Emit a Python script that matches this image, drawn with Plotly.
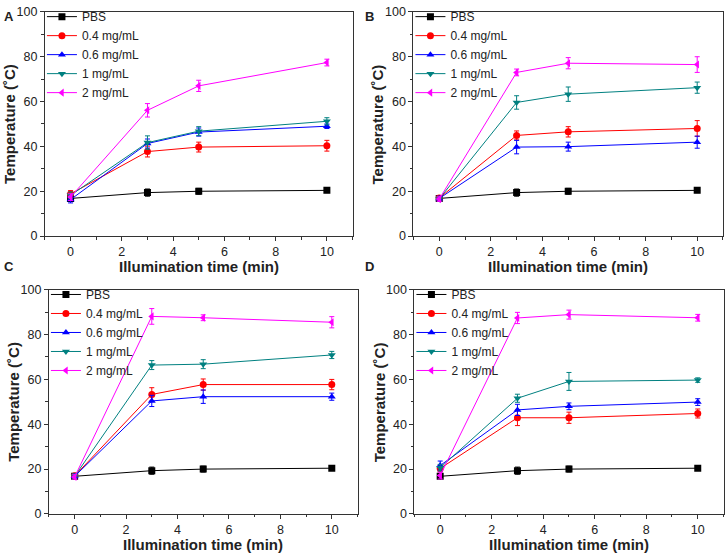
import plotly.graph_objects as go

times = [0, 3, 5, 10]
series_names = ["PBS", "0.4 mg/mL", "0.6 mg/mL", "1 mg/mL", "2 mg/mL"]
colors = ["#000000", "#ff0000", "#0000ff", "#008080", "#ff00ff"]
symbols = ["square", "circle", "triangle-up", "triangle-down", "triangle-left"]
panel_labels = ["A", "B", "C", "D"]

# Panel A
A_pbs = [16.8, 19.4, 20.0, 20.4]
A_04 = [18.8, 37.7, 39.7, 40.3]
A_06 = [16.3, 41.3, 46.4, 49.0]
A_1 = [18.2, 41.7, 46.8, 51.2]
A_2 = [17.4, 56.1, 67.0, 77.4]
A_pbs_err = [0.5, 1.6, 1.3, 1.0]
A_04_err = [1.5, 2.4, 2.2, 2.4]
A_06_err = [1.5, 2.0, 1.8, 1.0]
A_1_err = [1.5, 3.0, 2.0, 1.6]
A_2_err = [1.5, 3.0, 2.5, 1.5]

# Panel B
B_pbs = [16.8, 19.4, 20.0, 20.4]
B_04 = [17.0, 44.9, 46.5, 48.0]
B_06 = [16.8, 39.7, 39.9, 41.9]
B_1 = [16.6, 59.6, 63.3, 66.2]
B_2 = [16.5, 73.0, 77.1, 76.5]
B_pbs_err = [0.5, 1.6, 1.3, 1.0]
B_04_err = [1.0, 2.0, 2.3, 3.5]
B_06_err = [1.0, 3.0, 2.0, 2.7]
B_1_err = [1.0, 3.0, 3.2, 2.5]
B_2_err = [1.0, 1.5, 2.5, 3.5]

# Panel C
C_pbs = [16.8, 19.3, 20.0, 20.4]
C_04 = [17.0, 53.3, 57.7, 57.7]
C_06 = [16.8, 50.4, 52.3, 52.3]
C_1 = [16.8, 66.4, 66.8, 70.9]
C_2 = [16.5, 88.1, 87.5, 85.5]
C_pbs_err = [0.5, 1.6, 1.3, 1.0]
C_04_err = [1.0, 3.0, 2.5, 2.3]
C_06_err = [1.0, 2.5, 3.0, 1.6]
C_1_err = [1.0, 2.0, 2.0, 1.6]
C_2_err = [1.0, 3.5, 1.3, 2.5]

# Panel D
D_pbs = [16.8, 19.3, 20.0, 20.4]
D_04 = [20.3, 42.9, 42.9, 44.8]
D_06 = [21.6, 46.4, 48.0, 49.9]
D_1 = [20.6, 51.6, 59.1, 59.7]
D_2 = [17.1, 87.4, 88.9, 87.5]
D_pbs_err = [0.5, 1.6, 1.3, 1.0]
D_04_err = [1.5, 3.5, 2.5, 2.0]
D_06_err = [2.0, 2.5, 1.5, 1.5]
D_1_err = [1.5, 1.8, 4.0, 1.0]
D_2_err = [1.5, 2.5, 2.0, 1.5]

panels = [
    ([A_pbs, A_04, A_06, A_1, A_2], [A_pbs_err, A_04_err, A_06_err, A_1_err, A_2_err]),
    ([B_pbs, B_04, B_06, B_1, B_2], [B_pbs_err, B_04_err, B_06_err, B_1_err, B_2_err]),
    ([C_pbs, C_04, C_06, C_1, C_2], [C_pbs_err, C_04_err, C_06_err, C_1_err, C_2_err]),
    ([D_pbs, D_04, D_06, D_1, D_2], [D_pbs_err, D_04_err, D_06_err, D_1_err, D_2_err]),
]

W, H = 725, 558
# plot areas in pixels: (left, right, top, bottom)
boxes = [
    (45, 353, 5, 235),
    (414, 724, 5, 235),
    (49, 358, 290, 520),
    (415, 724.5, 290, 520),
]

fig = go.Figure()
FONT = "Liberation Sans, Arial, sans-serif"

for i, ((vals, errs), box) in enumerate(zip(panels, boxes)):
    l, r, t, b = box
    xa = "x" if i == 0 else f"x{i+1}"
    ya = "y" if i == 0 else f"y{i+1}"
    lg = "legend" if i == 0 else f"legend{i+1}"
    for k in range(5):
        fig.add_trace(go.Scatter(
            x=times, y=vals[k], name=series_names[k],
            mode="lines+markers",
            line=dict(color=colors[k], width=1),
            marker=dict(symbol=symbols[k], size=7, color=colors[k]),
            error_y=dict(type="data", array=errs[k], color=colors[k], thickness=1, width=2.5),
            xaxis=xa, yaxis=ya, legend=lg, showlegend=True,
        ))
    xdom = [l / W, r / W]
    ydom = [1 - b / H, 1 - t / H]
    axcommon = dict(showline=True, linecolor="#333", linewidth=1, mirror=True,
                    ticks="outside", ticklen=4, tickcolor="#333", showgrid=False,
                    zeroline=False, tickfont=dict(family=FONT, size=12.5, color="#222"))
    xkey = "xaxis" if i == 0 else f"xaxis{i+1}"
    ykey = "yaxis" if i == 0 else f"yaxis{i+1}"
    fig.update_layout(**{
        xkey: dict(domain=xdom, range=[-1, 11], tickvals=[0, 2, 4, 6, 8, 10],
                   anchor=ya, minor=dict(tickvals=[-1, 1, 3, 5, 7, 9, 11], ticklen=2.5, ticks="outside", tickcolor="#333"),
                   **axcommon),
        ykey: dict(domain=ydom, range=[0, 100], tickvals=[0, 20, 40, 60, 80, 100],
                   anchor=xa, minor=dict(tickvals=[10, 30, 50, 70, 90], ticklen=2.5, ticks="outside", tickcolor="#333"),
                   **axcommon),
        lg: dict(x=(l - 3) / W, y=1 - (t - 10) / H, xanchor="left", yanchor="top",
                 bgcolor="rgba(0,0,0,0)", font=dict(family=FONT, size=12, color="#222"),
                 tracegroupgap=0, itemwidth=30),
    })
    # axis titles
    fig.add_annotation(x=(l + r) / 2 / W, y=1 - (b + 31) / H, xref="paper", yref="paper",
                       text="<b>Illumination time (min)</b>", showarrow=False,
                       font=dict(family=FONT, size=15, color="#222"), xanchor="center", yanchor="middle")
    fig.add_annotation(x=(l - 35) / W, y=1 - ((t + b) / 2) / H, xref="paper", yref="paper",
                       text="<b>Temperature (˚C)</b>", showarrow=False, textangle=-90,
                       font=dict(family=FONT, size=15, color="#222"), xanchor="center", yanchor="middle")

label_pos = [(9, 10), (370, 10), (9, 266), (370, 266)]
for lab, (px, py) in zip(panel_labels, label_pos):
    fig.add_annotation(x=px / W, y=1 - py / H, xref="paper", yref="paper",
                       text=f"<b>{lab}</b>", showarrow=False,
                       font=dict(family=FONT, size=13, color="#222"), xanchor="center", yanchor="middle")

fig.update_layout(width=W, height=H, margin=dict(l=0, r=0, t=0, b=0),
                  paper_bgcolor="white", plot_bgcolor="white",
                  font=dict(family=FONT))
fig.write_html("out.html", config={"displayModeBar": False},
               post_script="document.body.style.margin='0px';document.body.style.overflow='hidden';")
